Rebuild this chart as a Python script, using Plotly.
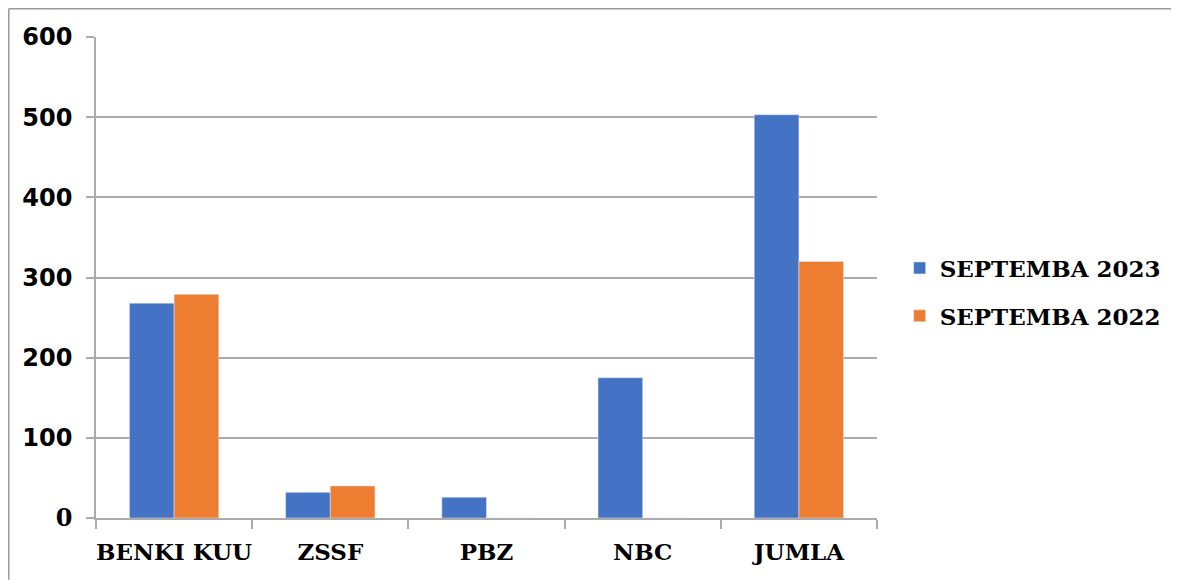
import plotly.graph_objects as go

# data
categories = ['BENKI KUU', 'ZSSF', 'PBZ', 'NBC', 'JUMLA']
sep_2023 = [268, 32, 26, 175, 503]
sep_2022 = [279, 40, 0, 0, 320]
y_ticks = [0, 100, 200, 300, 400, 500, 600]
# the zero label is set in the serif face in the original
y_ticktext = ['<span style="font-family:DejaVu Serif">0</span>',
              '100', '200', '300', '400', '500', '600']

BLUE = '#4472C4'
ORANGE = '#ED7D31'
GRID = '#ABABAB'

# page body has an 8px margin, so the figure is drawn 8px smaller
W, H = 1171, 572
L, T = 88, 29
PW, PH = 781.5, 481.3

fig = go.Figure()

fig.add_trace(go.Bar(
    x=categories,
    y=sep_2023,
    name='SEPTEMBA 2023',
    marker_color=BLUE,
    legendgroup='a'))

fig.add_trace(go.Bar(
    x=categories,
    y=sep_2022,
    name='SEPTEMBA 2022',
    marker_color=ORANGE,
    legendgroup='b'))

fig.update_layout(
    width=W,
    height=H,
    margin=dict(l=L, r=W - L - PW, t=T, b=H - T - PH, pad=0, autoexpand=False),
    plot_bgcolor='white',
    paper_bgcolor='white',
    barmode='group',
    bargap=0.428,
    bargroupgap=0,
    showlegend=True,
    legend=dict(
        x=1.029,
        y=0.47,
        xanchor='left',
        yanchor='middle',
        tracegroupgap=15,
        font=dict(family='DejaVu Serif', size=23, color='black', weight='bold'),
        bgcolor='rgba(0,0,0,0)',
    ),
    xaxis=dict(
        automargin=False,
        tickangle=0,
        showline=True,
        linecolor=GRID,
        linewidth=1.5,
        showgrid=False,
        ticks='outside',
        tickson='boundaries',
        ticklen=9,
        tickcolor=GRID,
        tickwidth=1.5,
        ticklabelstandoff=13,
        tickfont=dict(family='DejaVu Serif', size=23, color='black', weight='bold'),
    ),
    yaxis=dict(
        automargin=False,
        range=[0, 600],
        tickvals=y_ticks,
        ticktext=y_ticktext,
        showline=True,
        linecolor=GRID,
        linewidth=1.5,
        showgrid=True,
        gridcolor=GRID,
        gridwidth=1.5,
        zeroline=False,
        ticks='outside',
        ticklen=8,
        tickcolor=GRID,
        tickwidth=1.5,
        ticklabelstandoff=9,
        tickfont=dict(family='DejaVu Sans', size=24, color='black', weight='bold'),
    ),
)

# thin frame lines along the top and left edge, as in the original export
frame = dict(color='#9A9A9A', width=1.5)
fig.add_shape(type='line', xref='paper', yref='paper',
              x0=-(L - 0.75) / PW, x1=(W - L) / PW,
              y0=1 + (T - 0.75) / PH, y1=1 + (T - 0.75) / PH,
              line=frame, layer='below')
fig.add_shape(type='line', xref='paper', yref='paper',
              x0=-(L - 0.75) / PW, x1=-(L - 0.75) / PW,
              y0=-(H - T - PH) / PH, y1=1 + (T - 0.75) / PH,
              line=frame, layer='below')

fig.write_html('out.html')
